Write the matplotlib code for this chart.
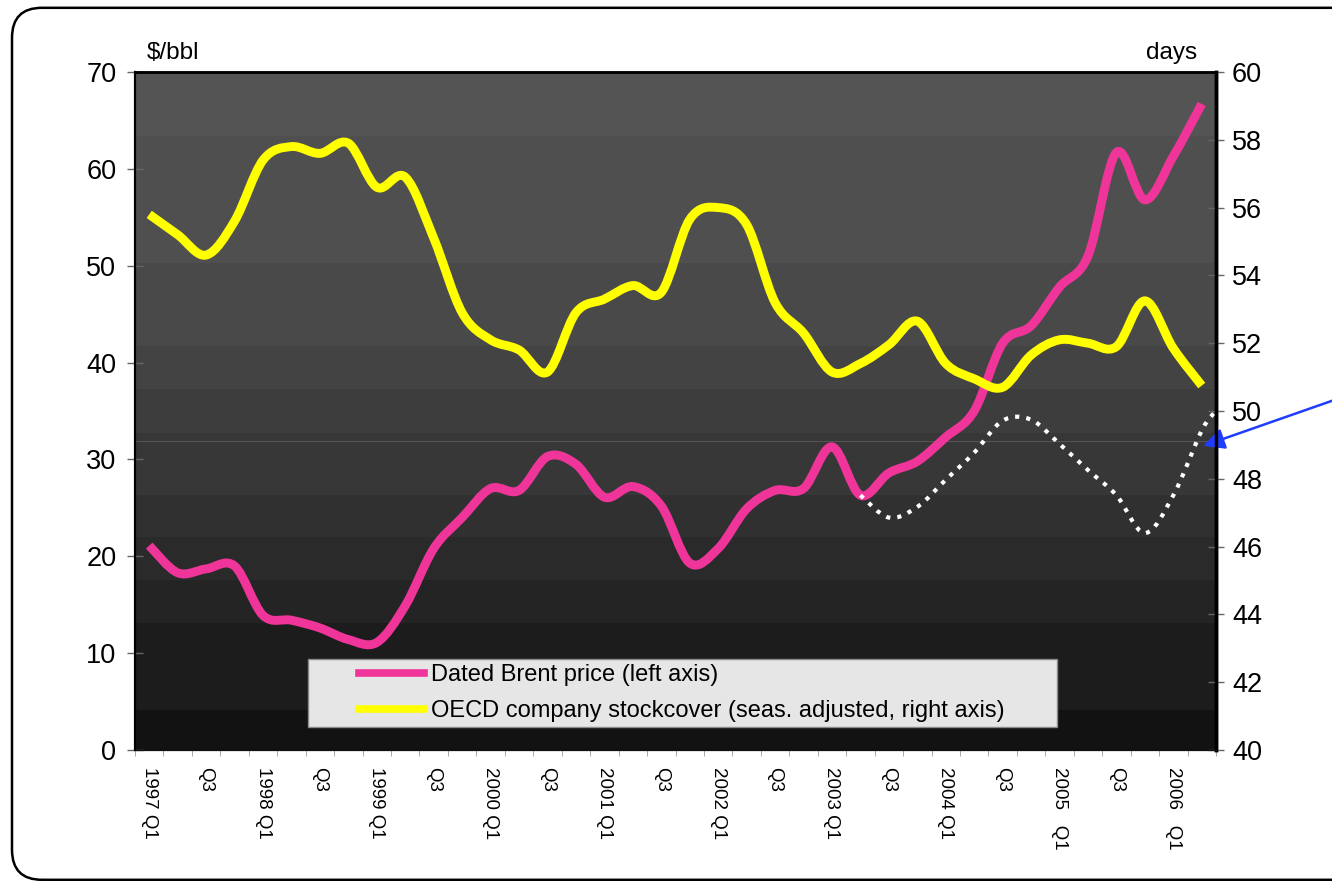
import numpy as np
import matplotlib.pyplot as plt
from matplotlib.path import Path
from matplotlib.patches import PathPatch, Rectangle, FancyBboxPatch
from matplotlib.lines import Line2D

plt.rcParams['font.family'] = ['Liberation Sans', 'DejaVu Sans']

# ── data (quarterly, 1997 Q1 .. 2006 Q2) ─────────────
quarter_labels = [
    '1997 Q1', '', 'Q3', '', '1998 Q1', '', 'Q3', '', '1999 Q1', '', 'Q3', '',
    '2000 Q1', '', 'Q3', '', '2001 Q1', '', 'Q3', '', '2002 Q1', '', 'Q3', '',
    '2003 Q1', '', 'Q3', '', '2004 Q1', '', 'Q3', '', '2005   Q1', '', 'Q3', '',
    '2006   Q1', '',
]

# Dated Brent, $/bbl (left axis)
brent = [21.1, 18.3, 18.7, 19.0, 13.9, 13.4, 12.6, 11.4, 11.1, 14.9,
         20.8, 24.0, 27.0, 26.8, 30.3, 29.5, 26.1, 27.2, 25.2, 19.3,
         20.8, 24.9, 26.8, 27.0, 31.3, 26.3, 28.6, 29.8, 32.3, 35.0,
         42.0, 43.8, 47.8, 51.0, 61.7, 56.8, 61.3, 66.7]

# OECD company stockcover, days (right axis)
stockcover = [55.8, 55.2, 54.6, 55.6, 57.4, 57.8, 57.6, 57.9, 56.6, 56.9,
              55.1, 52.9, 52.1, 51.8, 51.15, 52.9, 53.3, 53.7, 53.5, 55.65,
              56.0, 55.5, 53.2, 52.3, 51.15, 51.4, 51.95, 52.65, 51.4, 50.95,
              50.7, 51.65, 52.1, 52.0, 51.9, 53.25, 51.85, 50.75]

# hand-drawn dotted curve (in $/bbl units)
dotted_pos = [25, 26, 27, 28, 29, 30, 31, 32, 33, 34, 35, 36, 37, 37.5]
dotted_val = [26.3, 24.0, 25.1, 27.9, 30.7, 34.0, 34.1, 31.6, 28.9, 26.3,
              22.4, 26.3, 33.0, 35.0]

left_ticks = [0, 10, 20, 30, 40, 50, 60, 70]
right_ticks = [40, 42, 44, 46, 48, 50, 52, 54, 56, 58, 60]

PINK = '#f0359a'
YELLOW = '#ffff00'
BLUE = '#1f3cff'


def smooth_path(xs, ys):
    # Excel-style smoothed line: Catmull-Rom segments as cubic Beziers
    pts = np.column_stack([xs, ys]).astype(float)
    n = len(pts)
    verts, codes = [pts[0]], [Path.MOVETO]
    for i in range(n - 1):
        p0, p1 = pts[max(i - 1, 0)], pts[i]
        p2, p3 = pts[i + 1], pts[min(i + 2, n - 1)]
        verts += [p1 + (p2 - p0) / 6, p2 - (p3 - p1) / 6, p2]
        codes += [Path.CURVE4] * 3
    return Path(verts, codes)


W, H = 1332, 881
fig = plt.figure(figsize=(W / 100, H / 100), dpi=100)

L, R, T, B = 135, 1216, 72, 750
ax = fig.add_axes([L / W, 1 - B / H, (R - L) / W, (B - T) / H])
ax2 = ax.twinx()

# ── stepped dark background ─────────────────────────
band_edges = [72, 136, 263, 346, 389, 433, 495, 537, 580, 623, 710, 750]
band_cols = ['#545454', '#4f4f4f', '#494949', '#434343', '#3d3d3d', '#373737',
             '#303030', '#2a2a2a', '#242424', '#1c1c1c', '#121212']
for (y0, y1), c in zip(zip(band_edges[:-1], band_edges[1:]), band_cols):
    f0 = (B - y1) / (B - T)
    f1 = (B - y0) / (B - T)
    ax.add_patch(Rectangle((0, f0), 1, f1 - f0, transform=ax.transAxes,
                           fc=c, ec='none', zorder=0))
ax.add_line(Line2D([0, 1], [(B - 441) / (B - T)] * 2, transform=ax.transAxes,
                   color='#555555', lw=0.8, zorder=0.5))

x = np.arange(len(brent))

ax.add_patch(PathPatch(smooth_path(x, brent), fill=False, ec=PINK, lw=6.4,
                       capstyle='butt', joinstyle='round', zorder=3))
ax.add_patch(PathPatch(smooth_path(dotted_pos, dotted_val), fill=False,
                       ec='white', lw=3, linestyle=(0, (1, 1.7)),
                       capstyle='butt', zorder=3))
ax2.add_patch(PathPatch(smooth_path(x, stockcover), fill=False, ec=YELLOW, lw=6.4,
                        capstyle='butt', joinstyle='round', zorder=3))

# ── axes ────────────────────────────────────────────
ax.set_xlim(-0.5, len(brent) - 0.5)
ax.set_ylim(0, 70)
ax2.set_ylim(40, 60)
ax.set_yticks(left_ticks)
ax2.set_yticks(right_ticks)
ax.set_xticks(x)
ax.set_xticklabels(quarter_labels, rotation=-90, va='top', ha='center')
ax.set_xticks(np.arange(-0.5, len(brent)), minor=True)
ax.tick_params(axis='x', which='major', length=0, pad=12, labelsize=13.5)
ax.tick_params(axis='x', which='minor', length=4, color='#999999', direction='out')
ax.tick_params(axis='y', direction='inout', length=11, width=1, color='#666666',
               labelsize=19.5, pad=8)
ax2.tick_params(axis='y', direction='inout', length=11, width=1, color='#666666',
                labelsize=19.5, pad=6)

for a in (ax, ax2):
    a.spines['left'].set_linewidth(1.5)
    a.spines['top'].set_linewidth(1.8)
    a.spines['right'].set_linewidth(2.5)
    a.spines['bottom'].set_color('#111111')

fig.text(147 / W, 1 - 53 / H, '$/bbl', fontsize=17.5, ha='left', va='center')
fig.text(1197 / W, 1 - 53 / H, 'days', fontsize=17.5, ha='right', va='center')

# ── legend box ──────────────────────────────────────
ax2.add_patch(Rectangle(((308 - L) / (R - L), (B - 727) / (B - T)),
                        (1057 - 308) / (R - L), (727 - 659) / (B - T),
                        transform=ax2.transAxes, fc='#e6e6e6', ec='#8a8a8a',
                        lw=1, zorder=5))
handles = [Line2D([], [], color=PINK, lw=5.5),
           Line2D([], [], color=YELLOW, lw=5.5)]
ax2.legend(handles, ['Dated Brent price (left axis)',
                     'OECD company stockcover (seas. adjusted, right axis)'],
           loc='center left', bbox_to_anchor=((359 - L) / (R - L), (B - 693) / (B - T)),
           frameon=False, fontsize=17, handlelength=2.75, handletextpad=0.3,
           labelspacing=0.6, borderpad=0, borderaxespad=0).set_zorder(6)

# ── blue arrow ──────────────────────────────────────
ax.annotate('', xy=(37.05, 31.4), xycoords='data',
            xytext=(1.006, 1 - 398 / H), textcoords='figure fraction',
            arrowprops=dict(arrowstyle='-|>', color=BLUE, lw=1.8,
                            mutation_scale=32, shrinkA=0, shrinkB=0),
            annotation_clip=False, zorder=7)

# ── rounded outer frame ─────────────────────────────
fig.add_artist(FancyBboxPatch((0.12, 0.012), 13.5, 8.72,
                              boxstyle='round,pad=0,rounding_size=0.3',
                              transform=fig.dpi_scale_trans, fill=False,
                              ec='black', lw=1.8))

fig.savefig('out.png', dpi=100)
